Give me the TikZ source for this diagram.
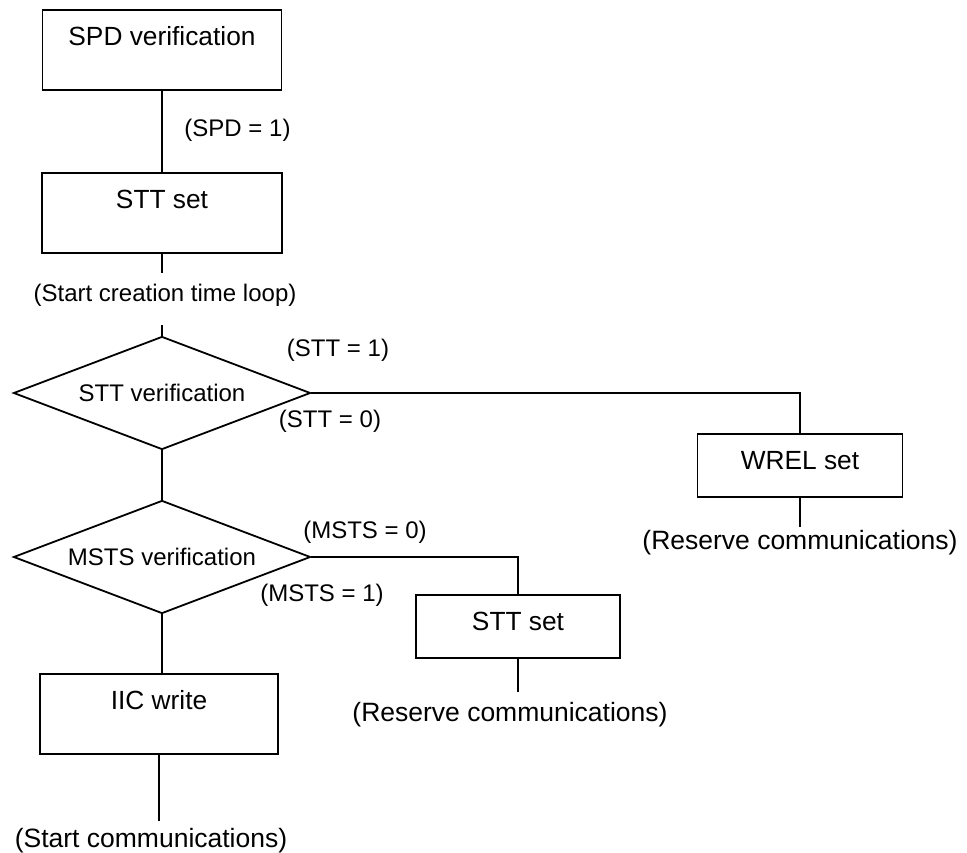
\documentclass[tikz,border=0pt]{standalone}
\usepackage{fontspec}
\setmainfont{Liberation Sans}
\usetikzlibrary{positioning}
\usetikzlibrary{shapes,shapes.geometric}
\tikzstyle{procbox} = [rectangle, draw, line width=1.8pt, inner sep=0pt, anchor=north, text centered, text height=36pt, font=\fontsize{26.3}{30}\selectfont]
\tikzstyle{tallbox} = [procbox, text depth=44pt]
\tikzstyle{shortbox} = [procbox, text depth=27pt]
\tikzstyle{decision} = [diamond, aspect=2.63, draw, line width=1.8pt, inner sep=0pt, minimum width=297pt, minimum height=113pt, text centered, font=\fontsize{24}{28}\selectfont]
\tikzstyle{cond} = [draw=none, fill=none, text centered, font=\fontsize{24}{28}\selectfont]
\tikzstyle{endlabel} = [draw=none, fill=none, text centered, inner sep=3pt, font=\fontsize{26.5}{30}\selectfont]
\tikzstyle{flow} = [draw, line width=1.8pt]

\begin{document}
\begin{tikzpicture}[x=1pt, y=-1pt]
	\useasboundingbox (0,0) rectangle (967,853);

	% place nodes
	\node [tallbox, minimum width=239pt]  (spd)     at (162,9)   {SPD verification};
	\node [tallbox, minimum width=240pt]  (sttset)  at (162,172) {STT set};
	\node [endlabel, font=\fontsize{24}{28}\selectfont] (loop) at (165,295) {(Start creation time loop)};
	\node [decision]                      (sttv)    at (162,393) {STT verification};
	\node [shortbox, minimum width=205pt] (wrel)    at (800,433) {WREL set};
	\node [endlabel]                      (wrelend) at (800,543) {(Reserve communications)};
	\node [decision]                      (msts)    at (162,557) {MSTS verification};
	\node [shortbox, minimum width=204pt] (sttset2) at (518,594) {STT set};
	\node [endlabel]                      (sttend)  at (510,715) {(Reserve communications)};
	\node [tallbox, minimum width=238pt]  (iic)     at (159,673) {IIC write};
	\node [endlabel]                      (iicend)  at (151,841) {(Start communications)};

	% condition labels
	\node [cond] (c1) at (237.5,130) {(SPD = 1)};
	\node [cond] (c2) at (338,350)   {(STT = 1)};
	\node [cond] (c3) at (330,421)   {(STT = 0)};
	\node [cond] (c4) at (365,532)   {(MSTS = 0)};
	\node [cond] (c5) at (322,595)   {(MSTS = 1)};

	% draw edges
	\path [flow] (spd) -- (sttset);
	\path [flow, shorten >=8pt] (sttset.south) -- (sttset.south |- loop.north);
	\path [flow, shorten <=16pt] (sttv.north |- loop.south) -- (sttv.north);
	\path [flow] (sttv.east) -| (wrel.north);
	\path [flow] (wrel.south) -- (wrel.south |- wrelend.north);
	\path [flow] (sttv.south) -- (msts.north);
	\path [flow] (msts.east) -| (sttset2.north);
	\path [flow, shorten >=7pt] (sttset2.south) -- (sttset2.south |- sttend.north);
	\path [flow] (msts.south) -- (msts.south |- iic.north);
	\path [flow, shorten >=4pt] (iic.south) -- (iic.south |- iicend.north);
\end{tikzpicture}
\end{document}
